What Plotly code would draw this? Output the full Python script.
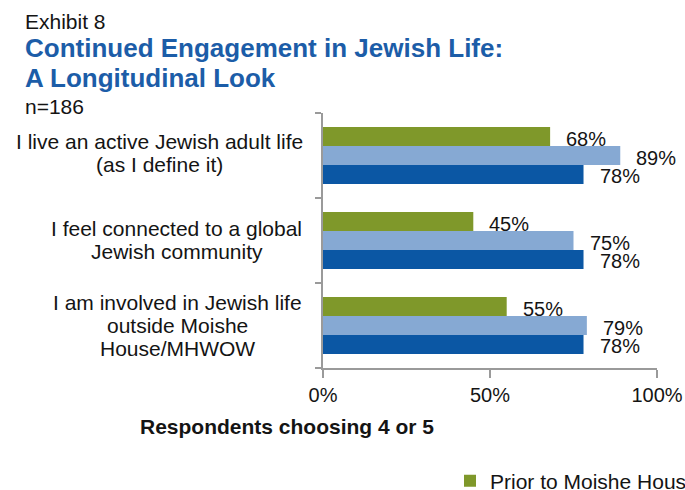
import plotly.graph_objects as go

categories = [
    "I live an active Jewish adult life<br>(as I define it)",
    "I feel connected to a global<br>Jewish community",
    "I am involved in Jewish life<br>outside Moishe<br>House/MHWOW",
]
prior_vals = [0.68, 0.45, 0.55]
during_vals = [0.89, 0.75, 0.79]
current_vals = [0.78, 0.78, 0.78]
series_names = ["Prior to Moishe House", "While in Moishe House", "Currently"]
series_colors = ["#7F982A", "#86A9D3", "#0B57A4"]
x_ticks = [0, 0.5, 1.0]
x_tick_labels = ["0%", "50%", "100%"]

FONT = "Liberation Sans, Arial, sans-serif"
TEXT = "#141414"
AXIS = "#9a9a9a"

# plot area in pixels
W, H = 685, 490
L, R, T, B = 323, 657, 113, 368


def px_x(px):
    return (px - L) / (R - L)


def px_y(py):
    return (B - py) / (B - T)


fig = go.Figure()
series = [prior_vals, during_vals, current_vals]
for i, (name, vals, color) in enumerate(zip(series_names, series, series_colors)):
    fig.add_trace(go.Bar(
        y=list(range(len(categories))), x=vals, orientation="h", name=name,
        marker=dict(color=color, line=dict(width=0)),
        showlegend=(i == 0),
    ))

# value labels beside each bar end
n = len(series)
gap = 0.33
group_width = 1 - gap
bar_h = group_width / n
for i, vals in enumerate(series):
    for j, v in enumerate(vals):
        fig.add_annotation(
            x=v, y=j - group_width / 2 + bar_h * (i + 0.5), yref="y", xref="x",
            text=f"{round(v * 100)}%", showarrow=False,
            xanchor="left", yanchor="middle", xshift=14, yshift=-2,
            font=dict(family=FONT, size=20, color=TEXT),
        )

# category labels: lines centred within a right-aligned block
label_centers = [159, 176.5, 177.5]
label_lift = [3, 1, 0]
line_step = 23
for j, (cat, cx) in enumerate(zip(categories, label_centers)):
    lines = cat.split("<br>")
    for k, line in enumerate(lines):
        fig.add_annotation(
            x=px_x(cx), xref="paper", y=j, yref="y",
            yshift=-(k - (len(lines) - 1) / 2) * line_step + label_lift[j],
            text=line, showarrow=False, xanchor="center", yanchor="middle",
            font=dict(family=FONT, size=21, color=TEXT),
        )

# header text block
header = [
    ("Exhibit 8", 21, 21, TEXT, False),
    ("Continued Engagement in Jewish Life:", 47.5, 26, "#1C5DA8", True),
    ("A Longitudinal Look", 77.5, 26, "#1C5DA8", True),
    ("n=186", 106.5, 21, TEXT, False),
]
for text, ypx, size, color, bold in header:
    fig.add_annotation(
        x=px_x(23), y=px_y(ypx + 0.02 * size), xref="paper", yref="paper",
        text=f"<b>{text}</b>" if bold else text, showarrow=False,
        xanchor="left", yanchor="middle",
        font=dict(family=FONT, size=size, color=color),
    )

fig.add_annotation(
    x=px_x(287), y=px_y(428 - 2), xref="paper", yref="paper",
    text="<b>Respondents choosing 4 or 5</b>", showarrow=False,
    xanchor="center", yanchor="middle",
    font=dict(family=FONT, size=21, color=TEXT),
)

fig.update_layout(
    width=W, height=H,
    margin=dict(l=L, r=W - R, t=T, b=H - B, pad=0, autoexpand=False),
    paper_bgcolor="white", plot_bgcolor="white",
    font=dict(family=FONT, size=20, color=TEXT),
    barmode="group", bargap=gap, bargroupgap=0,
    xaxis=dict(
        range=[0, 1], tickvals=x_ticks, ticktext=x_tick_labels,
        showgrid=False, zeroline=False, showline=True, linecolor=AXIS,
        linewidth=2, ticks="outside", ticklen=8, tickwidth=2, tickcolor=AXIS,
        tickfont=dict(size=20, color=TEXT), ticklabelstandoff=0,
    ),
    yaxis=dict(
        range=[len(categories) - 0.5, -0.5], showgrid=False, zeroline=False,
        showline=True, linecolor=AXIS, linewidth=2, ticks="outside",
        ticklen=6, tickwidth=2, tickcolor=AXIS,
        tickvals=[-0.5, 0.5, 1.5, 2.5], showticklabels=False,
    ),
    legend=dict(
        orientation="h", x=px_x(450), xanchor="left",
        y=px_y(481), yanchor="middle",
        font=dict(size=21, color=TEXT), itemwidth=30,
        bgcolor="rgba(0,0,0,0)",
    ),
)

fig.write_html("out.html")
